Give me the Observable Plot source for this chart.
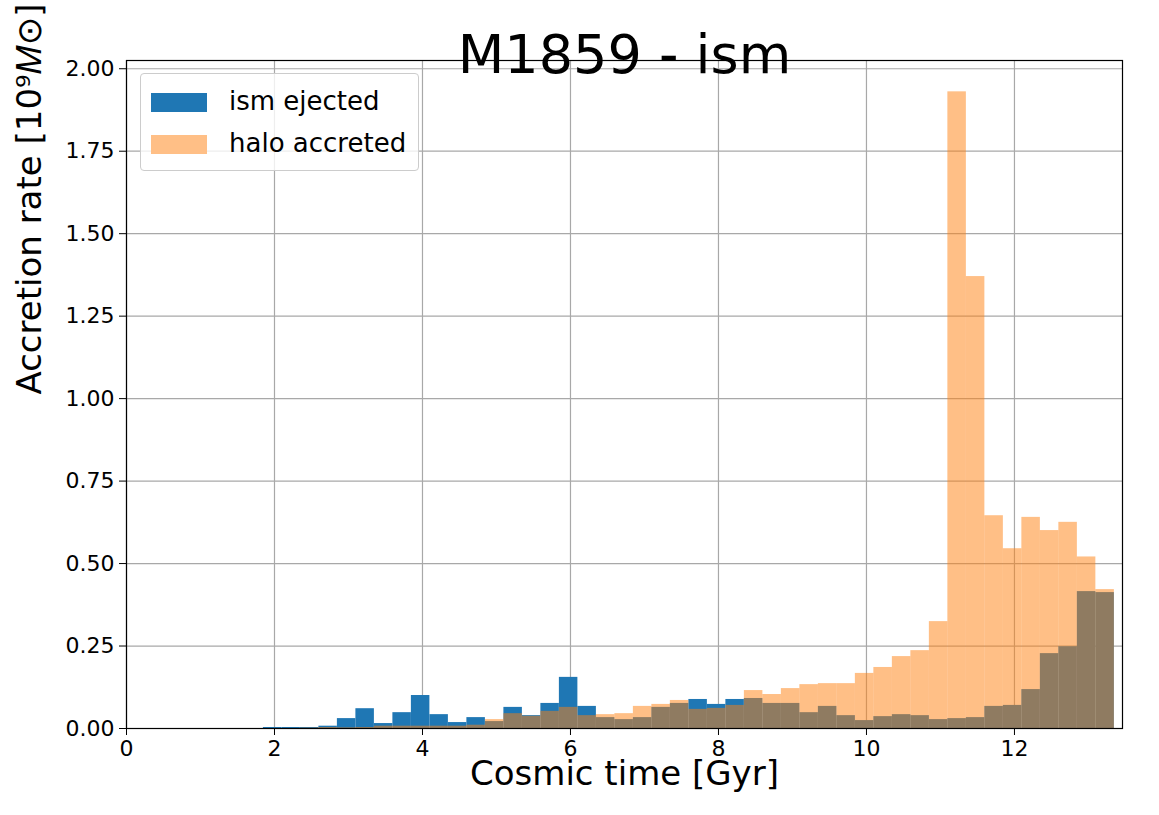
<!DOCTYPE html>
<html>
<head>
<meta charset="utf-8">
<script src="https://cdn.jsdelivr.net/npm/d3@7"></script>
<script src="https://cdn.jsdelivr.net/npm/@observablehq/plot@0.6"></script>
<style>
  body { margin: 0; background: #fff; font-family: "DejaVu Sans", sans-serif; }
  #wrap { position: relative; width: 1159px; height: 815px; }
  #legend { position: absolute; left: 140px; top: 73px; border: 1px solid #ccc; border-radius: 4px;
    background: rgba(255,255,255,0.8); padding: 6px 12px 6px 10px; font-size: 26px; line-height: 42px; }
  .sw { display: inline-block; width: 56px; height: 19px; margin-right: 22px; vertical-align: -2px; }
</style>
</head>
<body>
<div id="wrap">
  <div id="chart"></div>
  <div id="legend">
    <div><span class="sw" style="background:#1f77b4"></span>ism ejected</div>
    <div><span class="sw" style="background:#ffbf86"></span>halo accreted</div>
  </div>
</div>
<script>
// bins de 0.25 Gyr desde 1.85
const binStart = 1.85
const binWidth = 0.25
const ismEjected = [
  0.003, 0.003, 0.003, 0.007, 0.030, 0.060, 0.015, 0.048, 0.100, 0.042,
  0.018, 0.033, 0.021, 0.064, 0.039, 0.076, 0.155, 0.067, 0.033, 0.027,
  0.033, 0.064, 0.076, 0.088, 0.073, 0.088, 0.091, 0.076, 0.076, 0.048,
  0.067, 0.039, 0.024, 0.036, 0.042, 0.039, 0.027, 0.030, 0.033, 0.067,
  0.070, 0.118, 0.227, 0.248, 0.415, 0.412
]
const haloAccreted = [
  0.000, 0.000, 0.001, 0.003, 0.002, 0.003, 0.007, 0.007, 0.007, 0.007,
  0.007, 0.010, 0.027, 0.045, 0.037, 0.052, 0.064, 0.039, 0.042, 0.045,
  0.067, 0.073, 0.085, 0.058, 0.061, 0.070, 0.115, 0.103, 0.121, 0.133,
  0.136, 0.136, 0.167, 0.185, 0.218, 0.236, 0.324, 1.930, 1.370, 0.645,
  0.545, 0.640, 0.600, 0.625, 0.520, 0.421
]
const yTicks = [0, 0.25, 0.5, 0.75, 1, 1.25, 1.5, 1.75, 2]
const xTicks = [0, 2, 4, 6, 8, 10, 12]

const toBins = vals => vals.map((v, i) => ({
  x1: binStart + i * binWidth, x2: binStart + (i + 1) * binWidth, y: v
}))

const chart = Plot.plot({
  width: 1159,
  height: 815,
  marginTop: 60,
  marginBottom: 87,
  marginLeft: 126,
  marginRight: 37,
  style: { fontFamily: "DejaVu Sans, sans-serif", fontSize: "22px", color: "#000" },
  x: { domain: [0, 13.46], label: null },
  y: { domain: [0, 2.025], label: null },
  marks: [
    Plot.gridX(xTicks, { stroke: "#a8a8a8", strokeOpacity: 1, strokeWidth: 1.2 }),
    Plot.gridY(yTicks, { stroke: "#a8a8a8", strokeOpacity: 1, strokeWidth: 1.2 }),
    Plot.rectY(toBins(ismEjected), { x1: "x1", x2: "x2", y: "y", fill: "#1f77b4" }),
    Plot.rectY(toBins(haloAccreted), { x1: "x1", x2: "x2", y: "y", fill: "#ff7f0e", fillOpacity: 0.5 }),
    Plot.axisX({ ticks: xTicks, tickSize: 7, fontSize: 22, tickPadding: 5, label: null }),
    Plot.axisY({ ticks: yTicks, tickFormat: d3.format(".2f"), tickSize: 7, fontSize: 22, tickPadding: 5, label: null }),
    Plot.frame({ stroke: "#000", strokeWidth: 1.2 }),
    Plot.text(["M1859 - ism"], { frameAnchor: "top", dy: -26, fontSize: 54 }),
    Plot.text(["Cosmic time [Gyr]"], { frameAnchor: "bottom", dy: 56, fontSize: 34 }),
    Plot.text(["Accretion rate [10⁹𝑀⊙]"], { frameAnchor: "left", dx: -96, rotate: -90, fontSize: 34 })
  ]
})
d3.select('#chart').append(() => chart)
</script>
</body>
</html>
